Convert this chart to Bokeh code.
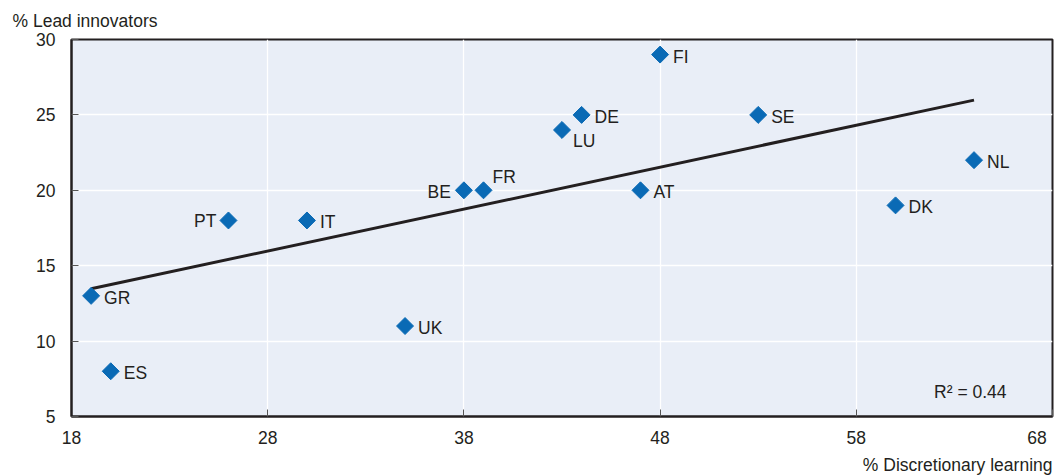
import numpy as np
from bokeh.plotting import figure
from bokeh.models import ColumnDataSource, FixedTicker, Range1d, Title, Label
from bokeh.core.properties import value
from bokeh.embed import file_html
from bokeh.resources import INLINE

# ---- data ----
countries = ["GR", "ES", "PT", "IT", "UK", "BE", "FR", "LU", "DE", "AT", "FI", "SE", "DK", "NL"]
discretionary_learning = [19, 20, 26, 30, 35, 38, 39, 43, 44, 47, 48, 53, 60, 64]
lead_innovators = [13, 8, 18, 18, 11, 20, 20, 24, 25, 20, 29, 25, 19, 22]
x_ticks = [18, 28, 38, 48, 58, 68]
y_ticks = [5, 10, 15, 20, 25, 30]
r2_text = "R\u00b2 = 0.44"

FONT = "Liberation Sans"
FS = "17.5px"
TXT = "#231f20"
BLUE = "#0a6ab5"

# label placement (pixel offsets, alignment)
default_place = (13, 2, "left")
special_place = {"PT": (-12, 1, "right"), "BE": (-13, 2, "right"),
                 "FR": (9, -13, "left"), "LU": (11, 11, "left")}
xo, yo, al = [], [], []
for c in countries:
    dx, dy, a = special_place.get(c, default_place)
    xo.append(dx); yo.append(dy); al.append(a)

src = ColumnDataSource(dict(x=discretionary_learning, y=lead_innovators, lab=countries,
                            xo=xo, yo=yo, al=al))

p = figure(width=1056, height=476, output_backend="svg", toolbar_location=None,
           x_range=Range1d(18, 68), y_range=Range1d(5, 30),
           min_border_left=71, min_border_right=4, min_border_top=39, min_border_bottom=59)

p.background_fill_color = "#e9eef7"
p.border_fill_color = "white"
p.outline_line_color = TXT
p.outline_line_width = 2

for ax in (p.xaxis[0], p.yaxis[0]):
    ax.axis_line_color = TXT
    ax.axis_line_width = 2
    ax.major_tick_in = 7
    ax.major_tick_out = 0
    ax.major_tick_line_color = "#555555"
    ax.minor_tick_line_color = None
    ax.major_label_text_font = FONT
    ax.major_label_text_font_size = FS
    ax.major_label_text_color = TXT

p.xaxis[0].ticker = FixedTicker(ticks=x_ticks)
p.yaxis[0].ticker = FixedTicker(ticks=y_ticks)
p.xaxis[0].major_label_overrides = {x_ticks[-1]: str(x_ticks[-1]) + "\u00a0" * 2}
p.xaxis[0].major_label_standoff = 11
p.yaxis[0].major_label_standoff = 16

p.xgrid.ticker = FixedTicker(ticks=x_ticks)
p.ygrid.ticker = FixedTicker(ticks=y_ticks)
p.grid.grid_line_color = "white"
p.grid.grid_line_width = 1.3

# trend line (OLS fit)
slope, intercept = np.polyfit(discretionary_learning, lead_innovators, 1)
tx = np.array([min(discretionary_learning), max(discretionary_learning)], dtype=float)
p.line(tx, slope * tx + intercept, line_color=TXT, line_width=3)

p.scatter("x", "y", source=src, marker="square", angle=np.pi / 4, size=12,
          fill_color=BLUE, line_color=BLUE)

p.text("x", "y", text="lab", source=src, x_offset="xo", y_offset="yo", text_align="al",
       text_baseline="middle", text_font=value(FONT), text_font_size=FS, text_color=TXT)

p.add_layout(Label(x=65.66, y=6.6, text=r2_text, text_align="right", text_baseline="middle",
                   text_font=FONT, text_font_size=FS, text_color=TXT))

p.title = Title(text="% Lead innovators", align="left", offset=-59, text_font=FONT,
                text_font_size=FS, text_font_style="normal", text_color=TXT, standoff=17)
p.add_layout(Title(text="% Discretionary learning", align="right", text_font=FONT,
                   text_font_size=FS, text_font_style="normal", text_color=TXT,
                   standoff=4), "below")

open("out.html", "w").write(file_html(p, INLINE))
